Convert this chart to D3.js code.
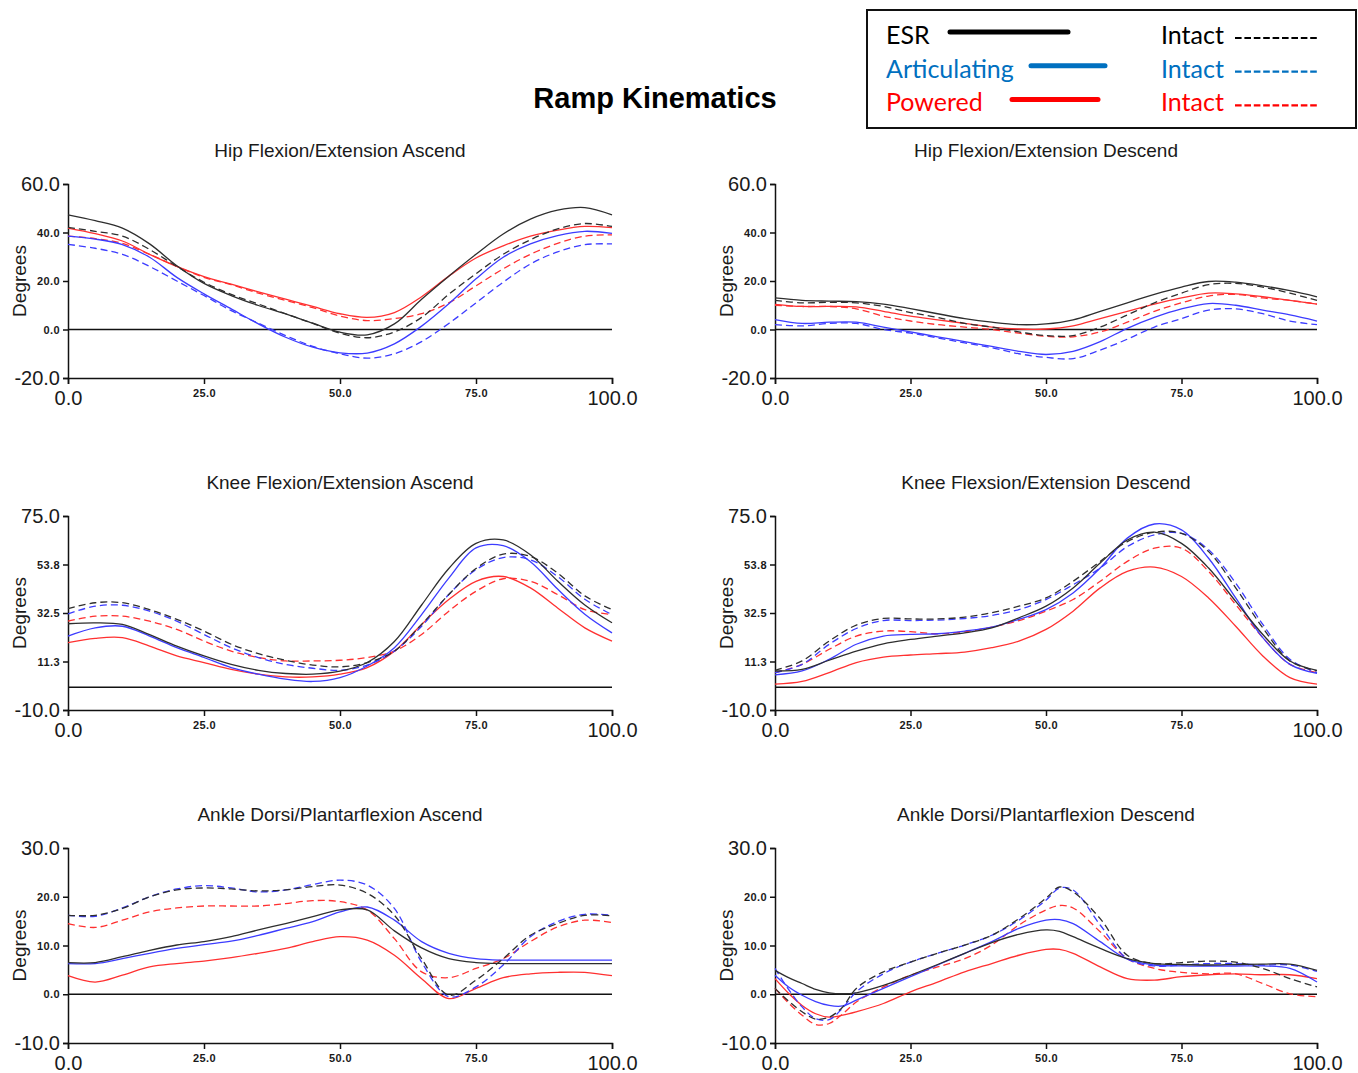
<!DOCTYPE html>
<html>
<head>
<meta charset="utf-8">
<script src="https://cdn.jsdelivr.net/npm/d3@7"></script>
<style>
  body { margin: 0; background: #fff; }
  svg { display: block; font-family: "Liberation Sans", Arial, sans-serif; }
</style>
</head>
<body>
<div class="chart"></div>
<script>
// x positions (% of stance / gait cycle)
const pct = [0,5,10,15,20,25,30,35,40,45,50,55,60,65,70,75,80,85,90,95,100]
const pctAnkDes = [0,2.5,5,7.5,10,12.5,15,20,25,30,35,40,45,50,52.5,55,60,65,70,75,80,85,90,95,100]

// hip ascend
const hipAscESR    = [47.3,44.9,41.8,35.3,26.3,19.0,14.0,9.9,6.4,2.6,-1.1,-2.2,2.3,12.5,22.0,31.0,39.4,45.5,49.2,50.3,47.3]
const hipAscESRInt = [42.1,40.5,38.5,33.0,26.0,19.5,14.5,10.5,6.5,2.5,-1.5,-3.4,-1.0,5.0,14.5,23.0,31.0,37.0,41.5,43.7,42.5]
const hipAscArt    = [38.5,37.3,35.0,29.8,21.5,14.7,8.5,2.3,-3.2,-7.3,-9.6,-9.7,-5.9,1.4,10.6,20.9,29.8,35.3,38.7,40.5,39.6]
const hipAscArtInt = [35.1,33.5,31.0,26.0,20.0,14.0,7.8,2.6,-2.5,-7.0,-10.0,-11.8,-10.0,-5.0,2.5,11.0,19.5,27.0,32.0,35.0,35.3]
const hipAscPow    = [41.8,39.5,36.5,31.0,26.0,21.8,18.7,15.5,12.5,9.5,6.5,5.0,7.0,13.5,22.0,29.5,34.5,38.5,41.0,42.5,42.0]
const hipAscPowInt = [38.5,37.5,35.5,31.0,26.0,21.5,18.5,15.0,12.0,9.0,5.5,3.7,4.5,6.5,11.0,18.0,25.0,31.0,35.5,38.5,39.0]

// hip descend
const hipDesESR    = [13.0,12.0,11.7,11.5,10.5,8.6,6.5,4.5,3.0,2.0,2.3,4.0,7.5,11.0,14.5,17.5,19.8,19.5,18.0,16.0,13.5]
const hipDesESRInt = [12.0,11.0,11.2,11.0,9.5,7.0,5.0,2.5,1.0,-1.0,-2.5,-2.5,1.0,6.0,11.0,15.0,18.5,19.0,17.5,15.0,12.0]
const hipDesArt    = [4.1,2.5,3.0,3.0,1.0,-1.0,-3.0,-5.0,-7.0,-9.0,-10.3,-9.0,-5.0,0.5,5.0,8.5,10.7,10.0,8.0,6.0,3.5]
const hipDesArtInt = [2.0,1.5,2.5,2.5,0.0,-1.5,-3.5,-5.5,-7.5,-10.0,-11.5,-12.0,-8.5,-4.0,1.0,4.5,8.0,8.5,6.5,3.5,2.0]
const hipDesPow    = [10.4,9.5,9.5,9.3,7.5,5.5,4.0,2.5,1.0,0.2,0.2,1.5,4.5,7.5,10.5,13.0,15.0,14.7,13.5,12.0,10.5]
const hipDesPowInt = [10.0,9.5,9.5,8.5,5.5,3.5,2.0,1.0,0.0,-1.5,-2.8,-3.0,-1.0,3.0,7.5,11.0,13.8,14.5,13.0,12.0,10.5]

// knee ascend
const kneeAscESR    = [27.8,28.2,27.5,23.0,18.0,13.7,10.0,7.4,6.0,5.7,7.0,10.8,20.0,36.0,52.0,63.0,64.5,58.0,46.5,36.0,28.2]
const kneeAscESRInt = [34.4,37.0,37.0,34.0,29.7,24.6,18.8,14.7,11.8,9.7,8.9,10.8,15.8,27.5,40.6,52.0,58.3,57.3,50.0,40.0,34.0]
const kneeAscArt    = [22.4,26.0,26.7,22.4,17.3,13.0,8.6,5.7,3.5,2.5,4.2,9.3,17.3,31.8,47.8,61.0,62.0,55.0,43.0,32.0,23.8]
const kneeAscArtInt = [32.1,35.5,35.9,33.3,28.9,23.1,17.3,13.0,10.0,8.3,7.4,9.7,15.8,26.7,40.6,51.5,56.8,55.8,48.5,38.5,31.8]
const kneeAscPow    = [19.5,21.4,21.7,18.0,13.7,10.8,7.8,5.7,4.5,4.5,5.7,8.6,15.8,27.5,38.4,46.4,48.5,43.5,34.7,26.0,20.2]
const kneeAscPowInt = [28.9,31.1,31.1,28.9,25.3,20.2,15.8,13.0,11.5,11.5,11.8,13.0,15.8,23.1,33.3,42.0,47.5,46.4,40.6,34.0,31.8]

// knee descend
const kneeDesESR    = [7.1,7.8,11.8,15.8,19.0,20.9,22.4,23.8,26.0,30.4,35.5,43.5,54.4,64.5,67.9,63.0,52.2,37.6,23.1,11.5,7.4]
const kneeDesESRInt = [7.4,11.5,20.2,27.2,30.1,29.9,29.9,30.7,32.6,35.5,39.1,46.4,55.1,63.8,67.9,67.4,59.4,43.5,26.0,11.5,7.1]
const kneeDesArt    = [5.4,7.1,12.2,18.8,22.4,23.1,23.4,24.6,26.3,29.7,34.0,41.3,52.2,65.3,71.5,68.9,56.5,39.1,21.7,10.0,6.0]
const kneeDesArtInt = [6.4,10.0,18.8,25.7,29.2,29.2,29.4,30.1,31.4,34.0,38.4,44.9,52.2,61.6,66.7,67.4,60.2,45.6,27.5,12.2,6.4]
const kneeDesPow    = [1.3,2.5,6.4,10.8,13.2,14.1,14.7,15.4,17.3,20.2,25.3,33.3,43.5,50.7,52.6,48.5,39.1,26.7,13.7,4.2,1.3]
const kneeDesPowInt = [6.4,10.0,16.6,22.4,24.6,24.3,23.4,24.3,26.3,29.2,33.3,38.4,46.4,55.1,60.9,60.9,50.7,36.2,21.7,10.0,6.4]

// ankle ascend
const ankAscESR    = [6.5,6.5,7.7,9.0,10.1,10.8,11.8,13.2,14.5,15.9,17.3,17.3,13.0,9.5,7.3,6.5,6.3,6.3,6.3,6.3,6.3]
const ankAscESRInt = [16.2,16.2,17.6,20.0,21.4,21.8,21.6,21.2,21.4,22.1,22.4,20.7,16.2,7.3,-0.2,2.9,7.3,12.1,14.5,16.2,16.1]
const ankAscArt    = [6.3,6.3,7.3,8.4,9.4,10.2,10.9,12.1,13.5,14.9,16.9,17.9,15.2,10.8,8.4,7.3,7.0,7.0,7.0,7.0,7.0]
const ankAscArtInt = [16.2,16.0,17.7,20.0,21.6,22.3,21.8,21.0,21.4,22.5,23.4,22.4,17.6,6.6,-0.5,1.5,6.0,11.8,14.9,16.4,16.2]
const ankAscPow    = [3.8,2.5,3.9,5.6,6.3,6.8,7.5,8.4,9.4,10.8,11.8,11.1,8.0,3.2,-0.9,1.2,3.4,4.2,4.5,4.5,3.8]
const ankAscPowInt = [14.5,13.7,15.2,16.9,17.7,18.1,18.1,18.1,18.6,19.2,19.0,17.3,11.4,4.6,3.4,5.3,7.3,10.8,13.8,15.2,14.7]

// ankle descend (uses pctAnkDes)
const ankDesESR    = [4.9,3.4,2.2,1.0,0.3,0.1,0.3,1.8,3.9,6.1,8.4,10.6,12.3,13.2,12.9,11.8,9.4,7.3,6.3,6.1,6.0,6.1,6.2,6.2,4.9]
const ankDesESRInt = [1.2,-1.4,-3.6,-5.1,-4.7,-2.6,1.2,4.6,6.6,8.4,10.1,12.1,15.5,19.7,22.0,21.0,15.5,8.0,6.3,6.5,6.8,6.6,5.3,3.2,1.5]
const ankDesArt    = [3.9,1.5,-0.2,-1.5,-2.3,-2.4,-1.2,1.2,3.6,6.0,8.4,10.8,13.5,15.2,15.3,14.5,10.8,7.2,6.0,5.8,5.8,5.8,5.8,5.3,2.5]
const ankDesArtInt = [5.3,1.0,-2.6,-5.0,-5.2,-2.8,0.5,4.2,6.6,8.4,10.1,12.1,15.2,19.3,21.8,21.4,14.2,7.3,5.8,6.0,6.3,6.3,6.0,6.0,4.7]
const ankDesPow    = [3.2,0.2,-2.3,-4.0,-4.7,-4.3,-3.6,-1.9,0.5,2.5,4.6,6.3,8.0,9.2,9.2,8.4,5.6,3.2,2.9,3.6,4.0,4.2,4.0,4.0,3.2]
const ankDesPowInt = [1.2,-1.8,-4.3,-6.2,-6.0,-4.0,-1.6,1.5,3.9,5.6,7.3,10.1,14.2,17.3,18.2,17.7,12.8,7.3,5.3,4.5,4.2,4.2,2.2,0.1,-0.5]

// axis ticks
const xTicks = [0,25,50,75,100]
const hipTicks = [-20,0,20,40,60]
const kneeTicks = [-10,11.25,32.5,53.75,75]
const ankTicks = [-10,0,10,20,30]

const legendRows = [
  {name: 'ESR', color: '#000000'},
  {name: 'Articulating', color: '#0070c0'},
  {name: 'Powered', color: '#ff0000'}
]

// series order: red, blue, black so black lands on top
const seriesStyle = [
  {color: '#ff3030', dash: null},
  {color: '#ff3030', dash: '7,4'},
  {color: '#3c3cff', dash: null},
  {color: '#3c3cff', dash: '7,4'},
  {color: '#2e2e2e', dash: null},
  {color: '#2e2e2e', dash: '7,4'}
]

const panels = [
  {title: 'Hip Flexion/Extension Ascend', col: 0, row: 0, ticks: hipTicks, x: pct,
   series: [hipAscPow, hipAscPowInt, hipAscArt, hipAscArtInt, hipAscESR, hipAscESRInt]},
  {title: 'Hip Flexion/Extension Descend', col: 1, row: 0, ticks: hipTicks, x: pct,
   series: [hipDesPow, hipDesPowInt, hipDesArt, hipDesArtInt, hipDesESR, hipDesESRInt]},
  {title: 'Knee Flexion/Extension Ascend', col: 0, row: 1, ticks: kneeTicks, x: pct,
   series: [kneeAscPow, kneeAscPowInt, kneeAscArt, kneeAscArtInt, kneeAscESR, kneeAscESRInt]},
  {title: 'Knee Flexsion/Extension Descend', col: 1, row: 1, ticks: kneeTicks, x: pct,
   series: [kneeDesPow, kneeDesPowInt, kneeDesArt, kneeDesArtInt, kneeDesESR, kneeDesESRInt]},
  {title: 'Ankle Dorsi/Plantarflexion Ascend', col: 0, row: 2, ticks: ankTicks, x: pct,
   series: [ankAscPow, ankAscPowInt, ankAscArt, ankAscArtInt, ankAscESR, ankAscESRInt]},
  {title: 'Ankle Dorsi/Plantarflexion Descend', col: 1, row: 2, ticks: ankTicks, x: pctAnkDes,
   series: [ankDesPow, ankDesPowInt, ankDesArt, ankDesArtInt, ankDesESR, ankDesESRInt]}
]

const width = 1358, height = 1073
const colX = [[68, 612], [775, 1317]]
const rowY = [[184, 378], [516, 710], [848, 1043]]

// plain hyphen minus, like the original
const fmt = d => d.toFixed(1)

let svg = d3.select('.chart').append('svg')
  .attr('width', width)
  .attr('height', height)

svg.append('text')
  .attr('x', 655).attr('y', 108)
  .attr('text-anchor', 'middle')
  .style('font-size', '29px').style('font-weight', 'bold')
  .text('Ramp Kinematics')

panels.forEach(p => {
  let [x0, x1] = colX[p.col]
  let [y0, y1] = rowY[p.row]

  let x = d3.scaleLinear().domain([0, 100]).range([x0, x1])
  let y = d3.scaleLinear().domain(d3.extent(p.ticks)).range([y1, y0])

  let g = svg.append('g')

  g.append('text')
    .attr('x', (x0 + x1) / 2).attr('y', y0 - 27)
    .attr('text-anchor', 'middle')
    .style('font-size', '19px').style('fill', '#1a1a1a')
    .text(p.title)

  g.append('text')
    .attr('transform', `translate(${x0 - 42},${(y0 + y1) / 2}) rotate(-90)`)
    .attr('text-anchor', 'middle')
    .style('font-size', '19px').style('fill', '#1a1a1a')
    .text('Degrees')

  // zero line
  g.append('line')
    .attr('x1', x(0)).attr('x2', x(100))
    .attr('y1', y(0)).attr('y2', y(0))
    .attr('stroke', '#111').attr('stroke-width', 1.5)

  let yAxis = g.append('g')
    .attr('transform', `translate(${x0},0)`)
    .call(d3.axisLeft(y).tickValues(p.ticks).tickSize(5).tickPadding(3).tickFormat(fmt))

  let xAxis = g.append('g')
    .attr('transform', `translate(0,${y1})`)
    .call(d3.axisBottom(x).tickValues(xTicks).tickSize(6).tickFormat(fmt))

  ;[yAxis, xAxis].forEach(ax => {
    ax.select('.domain').attr('stroke', '#111').attr('stroke-width', 1.5)
    ax.selectAll('.tick line').attr('stroke', '#111').attr('stroke-width', 1.5)
    ax.selectAll('.tick text')
      .attr('fill', '#1a1a1a')
      .style('font-family', '"Liberation Sans", Arial, sans-serif')
      .each(function(d, i, nodes) {
        let big = i === 0 || i === nodes.length - 1
        d3.select(this)
          .style('font-size', big ? '20px' : '11px')
          .style('font-weight', big ? 'normal' : 'bold')
          .style('letter-spacing', big ? null : '0.4px')
      })
  })
  xAxis.selectAll('.tick text')
    .attr('dy', null)
    .attr('y', (d, i) => (i === 0 || i === 4) ? 27 : 19)

  let line = d3.line()
    .x((d, i) => x(p.x[i]))
    .y(d => y(d))
    .curve(d3.curveCatmullRom)

  p.series.forEach((s, k) => {
    let st = seriesStyle[k]
    g.append('path')
      .datum(s)
      .attr('d', line)
      .attr('fill', 'none')
      .attr('stroke', st.color)
      .attr('stroke-width', 1.3)
      .attr('stroke-dasharray', st.dash)
  })
})

// legend
let lg = svg.append('g').style('font-family', 'Lato, "Open Sans", sans-serif')

lg.append('rect')
  .attr('x', 867).attr('y', 10)
  .attr('width', 489).attr('height', 118)
  .attr('fill', 'none').attr('stroke', '#111').attr('stroke-width', 2)

const legendLines = [[950, 1068], [1031, 1105], [1012, 1098]]

legendRows.forEach((r, i) => {
  let base = 44 + i * 33.7
  lg.append('text')
    .attr('x', 886).attr('y', base)
    .style('font-size', '25px').style('fill', r.color)
    .text(r.name)

  lg.append('line')
    .attr('x1', legendLines[i][0]).attr('x2', legendLines[i][1])
    .attr('y1', base - 12).attr('y2', base - 12)
    .attr('stroke', r.color).attr('stroke-width', 5).attr('stroke-linecap', 'round')

  lg.append('text')
    .attr('x', 1161).attr('y', base)
    .style('font-size', '25px').style('fill', r.color)
    .text('Intact')

  lg.append('line')
    .attr('x1', 1235).attr('x2', 1319)
    .attr('y1', base - 6).attr('y2', base - 6)
    .attr('stroke', r.color).attr('stroke-width', 2.2)
    .attr('stroke-dasharray', '6.6,2.8')
})
</script>
</body>
</html>
